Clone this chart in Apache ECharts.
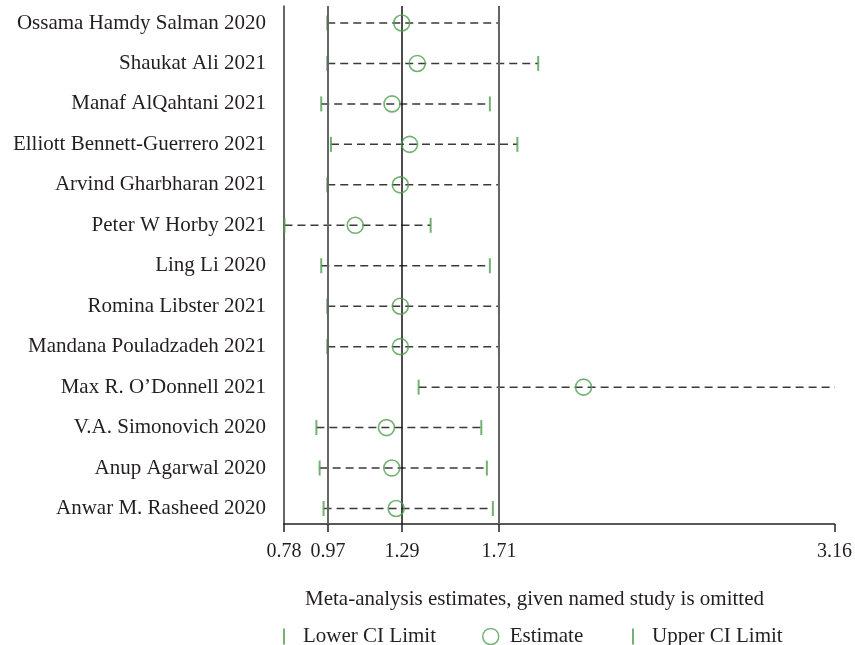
<!DOCTYPE html>
<html><head><meta charset="utf-8">
<script src="https://cdn.jsdelivr.net/npm/echarts@6/dist/echarts.min.js"></script>
<style>html,body{margin:0;padding:0;background:#fff}#c{width:855px;height:645px}</style>
</head><body><div id="c"></div>
<script>
const studies = ["Ossama Hamdy Salman 2020","Shaukat Ali 2021","Manaf AlQahtani 2021","Elliott Bennett-Guerrero 2021","Arvind Gharbharan 2021","Peter W Horby 2021","Ling Li 2020","Romina Libster 2021","Mandana Pouladzadeh 2021","Max R. O\u2019Donnell 2021","V.A. Simonovich 2020","Anup Agarwal 2020","Anwar M. Rasheed 2020"];
const lowerCI  = [0.967,0.967,0.941,0.983,0.967,0.782,0.941,0.967,0.967,1.362,0.920,0.934,0.951];
const estimate = [1.289,1.356,1.247,1.323,1.283,1.088,null,1.283,1.283,2.075,1.223,1.246,1.265];
const upperCI  = [1.709,1.879,1.670,1.789,1.709,1.414,1.670,1.709,1.709,3.162,1.633,1.657,1.683];
const tickValues = [0.78,0.97,1.29,1.71,3.16];
const refLines = [0.97,1.29,1.71];
const legendTitle = "Meta-analysis estimates, given named study is omitted";

const GREEN = '#4f9f4f';
const TXT = '#231f20';
const FONT = '"Liberation Serif","DejaVu Serif",serif';
const rows = studies.map((s,i)=>i+1);

const barPath = 'path://M0,0 L2,0 L2,16 L0,16 Z';

const chart = echarts.init(document.getElementById('c'));
chart.setOption({
  animation:false,
  textStyle:{fontFamily:FONT},
  grid:{left:284,right:18,top:6,bottom:121,containLabel:false},
  xAxis:{type:'value',min:0.78,max:3.16,
    axisLine:{show:true,lineStyle:{color:'#222',width:1.5}},
    axisTick:{show:true,length:8,customValues:tickValues,lineStyle:{color:'#222',width:1.5}},
    axisLabel:{customValues:tickValues,color:TXT,fontSize:20,fontFamily:FONT,margin:18,
      formatter:v=>v.toFixed(2)},
    splitLine:{show:false}},
  yAxis:{type:'value',inverse:true,min:0.58,max:13.383,
    axisLine:{show:true,lineStyle:{color:'#333',width:1.5}},
    axisTick:{show:false},
    axisLabel:{customValues:rows,color:TXT,fontSize:21,fontFamily:FONT,margin:18,
      formatter:v=>studies[Math.round(v)-1]||''},
    splitLine:{show:false}},
  title:{text:legendTitle,left:305,top:589,padding:0,
    textStyle:{fontFamily:FONT,fontSize:21,fontWeight:'normal',color:TXT}},
  legend:[
    {data:[{name:'Lower CI Limit',icon:barPath}],left:283,top:626,padding:0,itemWidth:28,itemHeight:16,
      textStyle:{fontFamily:FONT,fontSize:21,color:TXT}},
    {data:[{name:'Estimate',icon:'circle'}],left:482,top:626,padding:0,itemWidth:28,itemHeight:16,
      itemStyle:{color:'rgba(0,0,0,0)',borderColor:GREEN,borderWidth:1.5},
      textStyle:{fontFamily:FONT,fontSize:21,color:TXT}},
    {data:[{name:'Upper CI Limit',icon:barPath}],left:632,top:626,padding:0,itemWidth:28,itemHeight:16,
      textStyle:{fontFamily:FONT,fontSize:21,color:TXT}}
  ],
  series:[
    {type:'custom',name:'ci',silent:true,z:2,
      data:rows.map((r,i)=>[lowerCI[i],upperCI[i],r]),
      renderItem:(params,api)=>{
        const a=api.coord([api.value(0),api.value(2)]);
        const b=api.coord([api.value(1),api.value(2)]);
        return {type:'line',shape:{x1:a[0],y1:a[1],x2:b[0],y2:b[1]},
          style:{stroke:'#3a3a3a',lineWidth:1.5,lineDash:[8,5]}};
      },
      markLine:{silent:true,symbol:'none',label:{show:false},
        data:[
          {xAxis:refLines[0],lineStyle:{color:'#666',width:2,type:'solid'}},
          {xAxis:refLines[1],lineStyle:{color:'#111',width:1.5,type:'solid'}},
          {xAxis:refLines[2],lineStyle:{color:'#666',width:2,type:'solid'}}
        ]}
    },
    {type:'scatter',name:'Lower CI Limit',z:4,symbol:'rect',symbolSize:[2,15],
      itemStyle:{color:GREEN},data:rows.map((r,i)=>[lowerCI[i],r])},
    {type:'scatter',name:'Upper CI Limit',z:4,symbol:'rect',symbolSize:[2,15],
      itemStyle:{color:GREEN},data:rows.map((r,i)=>[upperCI[i],r])},
    {type:'scatter',name:'Estimate',z:5,symbol:'circle',symbolSize:16,
      itemStyle:{color:'rgba(0,0,0,0)',borderColor:GREEN,borderWidth:1.6},
      data:rows.map((r,i)=>estimate[i]==null?null:[estimate[i],r]).filter(d=>d)}
  ]
});
</script></body></html>
